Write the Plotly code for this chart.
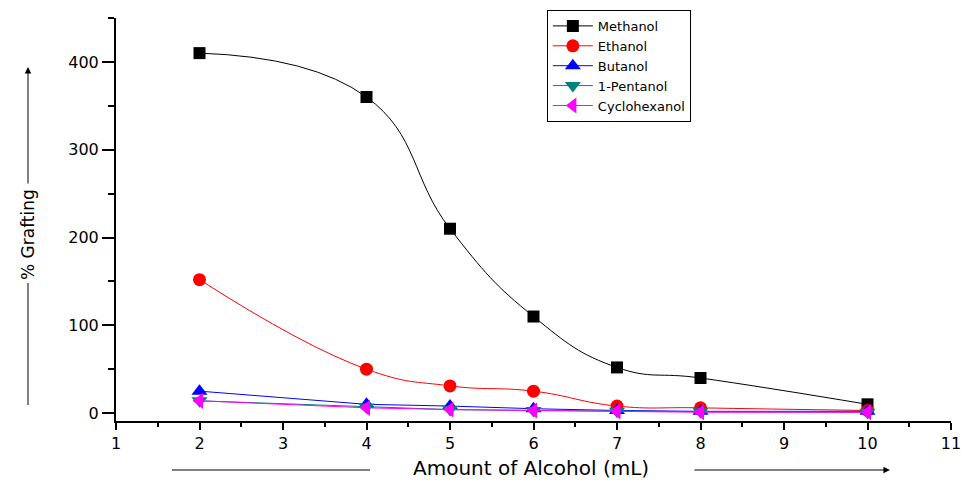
import plotly.graph_objects as go

# Amount of alcohol (mL)
alcohol_ml = [2, 4, 5, 6, 7, 8, 10]

# % Grafting for each alcohol
methanol = [410, 360, 210, 110, 52, 40, 10]
ethanol = [152, 50, 31, 25, 8, 6, 3]
butanol = [25, 10, 8, 5, 3, 2, 2]
pentanol = [14, 7, 4, 3, 2, 1.5, 1]
cyclohexanol = [14, 6, 4, 3, 2, 1, 1]

x_ticks = list(range(1, 12))
y_ticks = [0, 100, 200, 300, 400]

series = [
    ("Methanol", methanol, "#000000", "square", 12, "spline"),
    ("Ethanol", ethanol, "#ff0000", "circle", 13, "spline"),
    ("Butanol", butanol, "#0000ff", "triangle-up", 14, "linear"),
    ("1-Pentanol", pentanol, "#008080", "triangle-down", 14, "linear"),
    ("Cyclohexanol", cyclohexanol, "#ff00ff", "triangle-left", 14, "linear"),
]

fig = go.Figure()
for name, vals, color, symbol, size, shape in series:
    fig.add_trace(go.Scatter(
        x=alcohol_ml, y=vals, name=name, mode="lines+markers",
        line=dict(color=color, width=1, shape=shape, smoothing=1.3),
        marker=dict(color=color, symbol=symbol, size=size),
    ))

font = "DejaVu Sans, Arial, sans-serif"

fig.update_layout(
    width=961, height=481,
    margin=dict(l=116, r=10, t=18, b=60),
    paper_bgcolor="white", plot_bgcolor="white",
    font=dict(family=font, color="black"),
    showlegend=True,
    legend=dict(
        x=0.516, y=1.02, xanchor="left", yanchor="top",
        bordercolor="black", borderwidth=1, bgcolor="white",
        font=dict(size=13, family=font), tracegroupgap=0,
        itemwidth=40,
    ),
    xaxis=dict(
        range=[1, 11], showgrid=False, zeroline=False, automargin=False,
        showline=True, linecolor="black", linewidth=2,
        ticks="outside", tickwidth=2, ticklen=7, tickcolor="black",
        tickmode="array", tickvals=x_ticks, ticklabeloverflow="allow",
        tickfont=dict(size=16),
        minor=dict(ticks="outside", ticklen=4, tickwidth=2, tickcolor="black", dtick=0.5),
    ),
    yaxis=dict(
        range=[-9, 450], showgrid=False, zeroline=False, automargin=False,
        showline=True, linecolor="black", linewidth=2,
        ticks="outside", tickwidth=2, ticklen=12, tickcolor="black",
        tickmode="array", tickvals=y_ticks,
        tickfont=dict(size=16),
        minor=dict(ticks="outside", ticklen=6, tickwidth=2, tickcolor="black",
                   tickvals=[50, 150, 250, 350, 450]),
    ),
)

# Y-axis title with leading line and arrow
fig.add_shape(type="line", xref="paper", yref="paper",
              x0=-0.1054, x1=-0.1054, y0=0.0397, y1=0.3424,
              line=dict(color="black", width=1))
fig.add_annotation(xref="paper", yref="paper", x=-0.1054, y=0.464,
                   xanchor="center", yanchor="middle",
                   text="% Grafting", textangle=-90, showarrow=False,
                   font=dict(size=17, family=font))
fig.add_annotation(xref="paper", yref="paper", x=-0.1054, y=0.8784,
                   ax=0, ay=118, text="", showarrow=True,
                   arrowhead=2, arrowsize=1.3, arrowwidth=1, arrowcolor="black")

# X-axis title with leading line and arrow
fig.add_shape(type="line", xref="paper", yref="paper",
              x0=0.0671, x1=0.3042, y0=-0.1216, y1=-0.1216,
              line=dict(color="black", width=1))
fig.add_annotation(xref="paper", yref="paper", x=0.4976, y=-0.1166,
                   xanchor="center", yanchor="middle",
                   text="Amount of Alcohol (mL)", showarrow=False,
                   font=dict(size=20, family=font))
fig.add_annotation(xref="paper", yref="paper", x=0.9269, y=-0.1216,
                   ax=-197, ay=0, text="", showarrow=True,
                   arrowhead=2, arrowsize=1.3, arrowwidth=1, arrowcolor="black")

fig.write_html("out.html")
